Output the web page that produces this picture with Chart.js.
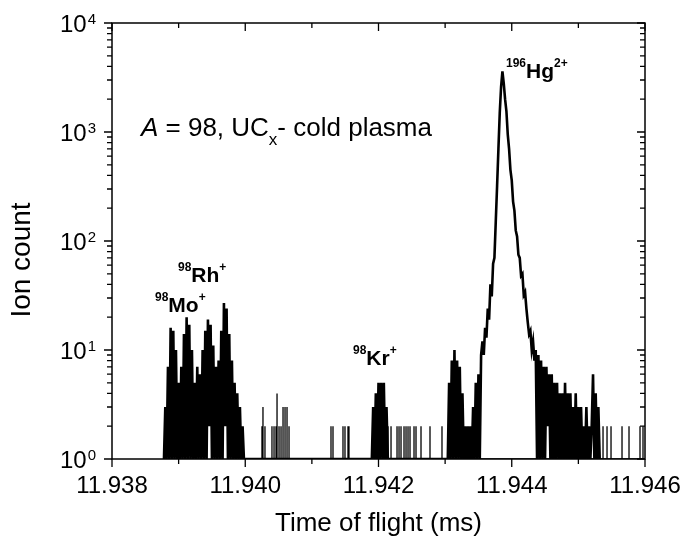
<!DOCTYPE html>
<html>
<head>
<meta charset="utf-8">
<script src="https://cdn.jsdelivr.net/npm/chart.js@4.4.1/dist/chart.umd.min.js"></script>
<style>
  html, body { margin: 0; padding: 0; background: #fff; }
  #tof { display: block; }
</style>
</head>
<body>
<canvas id="tof" width="684" height="539"></canvas>
<script>
// time bin of the spectrum (ms)
const binWidth = 0.00002;

// 98Mo+ / 98Rh+ group
const moRhStart = 11.93878;
const moRhCounts = [
  0, 3, 0, 7, 1, 16, 0, 15, 1, 10,
  0, 5, 1, 7, 0, 14, 1, 20, 0, 17,
  1, 10, 0, 5, 0, 7, 1, 6, 0, 10,
  1, 15, 0, 19, 2, 17, 0, 11, 1, 7,
  0, 8, 1, 15, 0, 27, 2, 24, 0, 14,
  1, 8, 0, 5, 0, 4, 1, 3, 0, 2, 0
];

// 98Kr+
const krStart = 11.9419;
const krCounts = [0, 3, 0, 4, 1, 5, 0, 5, 1, 5, 0, 3, 0];

// 196Hg2+ with its satellite and tail
const hgStart = 11.94304;
const hgCounts = [
  0, 5, 0, 8, 1, 10, 0, 8, 1, 7,
  0, 4, 1, 2, 0, 2, 1, 2, 0, 3,
  1, 5, 0, 6, 1, 9, 12, 9, 16, 13,
  24, 19, 40, 31, 62, 70, 150, 320, 700, 1500,
  2600, 3600, 2800, 2000, 1550, 950, 700, 450, 360, 230,
  190, 125, 110, 75, 70, 48, 50, 32, 34, 24,
  18, 14, 15, 10, 12, 8, 10, 1, 9, 0,
  8, 1, 7, 0, 7, 2, 6, 0, 6, 1,
  5, 0, 5, 1, 4, 0, 4, 0, 5, 1,
  4, 0, 4, 1, 3, 0, 4, 0, 3, 0,
  3, 1, 2, 0, 3, 0, 2, 1, 2, 6,
  0, 4, 1, 3, 0
];

// isolated single-bin events
const spikeTimes = [
  11.940251, 11.940266, 11.940296, 11.940401, 11.940432, 11.940462, 11.940477,
  11.940507, 11.940537, 11.940567, 11.940597, 11.940627, 11.940657,
  11.941287, 11.941317, 11.941467, 11.941497, 11.941542, 11.941557,
  11.942143, 11.942188, 11.942278, 11.942308, 11.942338, 11.942383, 11.942413,
  11.942443, 11.942473, 11.942533, 11.942563, 11.942638, 11.942773, 11.942953,
  11.945370, 11.945430, 11.945490, 11.945655, 11.945760, 11.945925, 11.945970
];
const spikeCounts = [
  2, 3, 2, 2, 2, 2, 4, 2, 2, 3, 3, 3, 2,
  2, 2, 2, 2, 2, 2,
  2, 2, 2, 2, 2, 2, 2, 2, 2, 2, 2, 2, 2, 2,
  2, 2, 2, 2, 2, 2, 2
];

const xTicks = [11.938, 11.939, 11.940, 11.941, 11.942, 11.943, 11.944, 11.945, 11.946];
const xTickLabels = ['11.938', '', '11.940', '', '11.942', '', '11.944', '', '11.946'];
const yDecades = [0, 1, 2, 3, 4];

const peakLabels = [
  { iso: '196', el: 'Hg', charge: '2+', t: 11.943914, count: 3130 },
  { iso: '98', el: 'Rh', charge: '+', t: 11.938991, count: 42.4 },
  { iso: '98', el: 'Mo', charge: '+', t: 11.938645, count: 22.4 },
  { iso: '98', el: 'Kr', charge: '+', t: 11.941617, count: 7.28 }
];

const sans = '"Liberation Sans", Arial, Helvetica, sans-serif';

// zero counts sit on the axis floor of the log scale
const binPoints = [];
function addBins(start, counts) {
  counts.forEach((c, i) => binPoints.push({ x: start + i * binWidth, y: Math.max(c, 1) }));
}
addBins(moRhStart, moRhCounts);
addBins(krStart, krCounts);
addBins(hgStart, hgCounts);

const spikePoints = [];
spikeTimes.forEach((t, i) => {
  spikePoints.push({ x: t, y: 1 }, { x: t, y: spikeCounts[i] }, { x: t, y: 1 });
});

function drawParts(ctx, x, y, parts) {
  let cx = x;
  parts.forEach(p => {
    ctx.font = p.font;
    ctx.fillText(p.text, cx, y + (p.dy || 0));
    cx += ctx.measureText(p.text).width;
  });
}

const framePlugin = {
  id: 'frame',
  afterDraw(chart) {
    const { ctx, chartArea: a, scales: { x, y } } = chart;
    ctx.save();
    ctx.strokeStyle = '#000';
    ctx.fillStyle = '#000';
    ctx.lineWidth = 1.5;
    ctx.strokeRect(a.left, a.top, a.right - a.left, a.bottom - a.top);

    // x ticks: out at bottom, in at top
    ctx.lineWidth = 1.3;
    ctx.beginPath();
    xTicks.forEach((v, k) => {
      const px = x.getPixelForValue(v);
      const len = xTickLabels[k] ? 8 : 5;
      ctx.moveTo(px, a.bottom); ctx.lineTo(px, a.bottom + len);
      ctx.moveTo(px, a.top); ctx.lineTo(px, a.top + len);
    });
    // y ticks: out at left, in at right
    yDecades.forEach(d => {
      const py = y.getPixelForValue(Math.pow(10, d));
      ctx.moveTo(a.left - 8, py); ctx.lineTo(a.left, py);
      ctx.moveTo(a.right - 8, py); ctx.lineTo(a.right, py);
      if (d < 4) {
        for (let m = 2; m <= 9; m++) {
          const pm = y.getPixelForValue(m * Math.pow(10, d));
          ctx.moveTo(a.left - 5, pm); ctx.lineTo(a.left, pm);
          ctx.moveTo(a.right - 5, pm); ctx.lineTo(a.right, pm);
        }
      }
    });
    ctx.stroke();

    // x tick labels
    ctx.font = '24px ' + sans;
    ctx.textAlign = 'center';
    ctx.textBaseline = 'alphabetic';
    xTicks.forEach((v, k) => {
      if (xTickLabels[k]) ctx.fillText(xTickLabels[k], x.getPixelForValue(v), a.bottom + 34);
    });

    // y tick labels 10^n
    ctx.textAlign = 'right';
    yDecades.forEach(d => {
      const py = y.getPixelForValue(Math.pow(10, d));
      const right = a.left - 16;
      ctx.font = '15px ' + sans;
      const ew = ctx.measureText(String(d)).width;
      ctx.fillText(String(d), right, py + 1);
      ctx.font = '24px ' + sans;
      ctx.fillText('10', right - ew - 1, py + 9);
    });

    // axis titles
    ctx.textAlign = 'center';
    ctx.font = '26px ' + sans;
    ctx.fillText('Time of flight (ms)', (a.left + a.right) / 2, 531);
    ctx.save();
    ctx.translate(22, 260);
    ctx.rotate(-Math.PI / 2);
    ctx.textBaseline = 'middle';
    ctx.font = '28px ' + sans;
    ctx.fillText('Ion count', 0, 0);
    ctx.restore();

    // annotations
    ctx.textAlign = 'left';
    ctx.textBaseline = 'alphabetic';
    drawParts(ctx, x.getPixelForValue(11.938435), y.getPixelForValue(918), [
      { text: 'A', font: 'italic 26px ' + sans },
      { text: ' = 98, UC', font: '26px ' + sans },
      { text: 'x', font: '17px ' + sans, dy: 9 },
      { text: '- cold plasma', font: '26px ' + sans }
    ]);
    peakLabels.forEach(l => {
      drawParts(ctx, x.getPixelForValue(l.t), y.getPixelForValue(l.count), [
        { text: l.iso, font: 'bold 12px ' + sans, dy: -11 },
        { text: l.el, font: 'bold 21px ' + sans },
        { text: l.charge, font: 'bold 12px ' + sans, dy: -11 }
      ]);
    });
    ctx.restore();
  }
};

new Chart(document.getElementById('tof'), {
  type: 'line',
  data: {
    datasets: [{
      data: binPoints,
      borderColor: '#000',
      borderWidth: 2.6,
      pointRadius: 0,
      fill: false,
      tension: 0
    }, {
      data: spikePoints,
      borderColor: '#000',
      borderWidth: 1.3,
      pointRadius: 0,
      fill: false,
      tension: 0
    }]
  },
  options: {
    responsive: false,
    animation: false,
    layout: { padding: { top: 23, right: 39, left: 0, bottom: 0 } },
    plugins: { legend: { display: false }, tooltip: { enabled: false } },
    scales: {
      x: {
        type: 'linear', min: 11.938, max: 11.946,
        ticks: { display: false }, grid: { display: false }, border: { display: false },
        afterFit: s => { s.height = 80; }
      },
      y: {
        type: 'logarithmic', min: 1, max: 10000,
        ticks: { display: false }, grid: { display: false }, border: { display: false },
        afterFit: s => { s.width = 112; }
      }
    }
  },
  plugins: [framePlugin]
});
</script>
</body>
</html>
